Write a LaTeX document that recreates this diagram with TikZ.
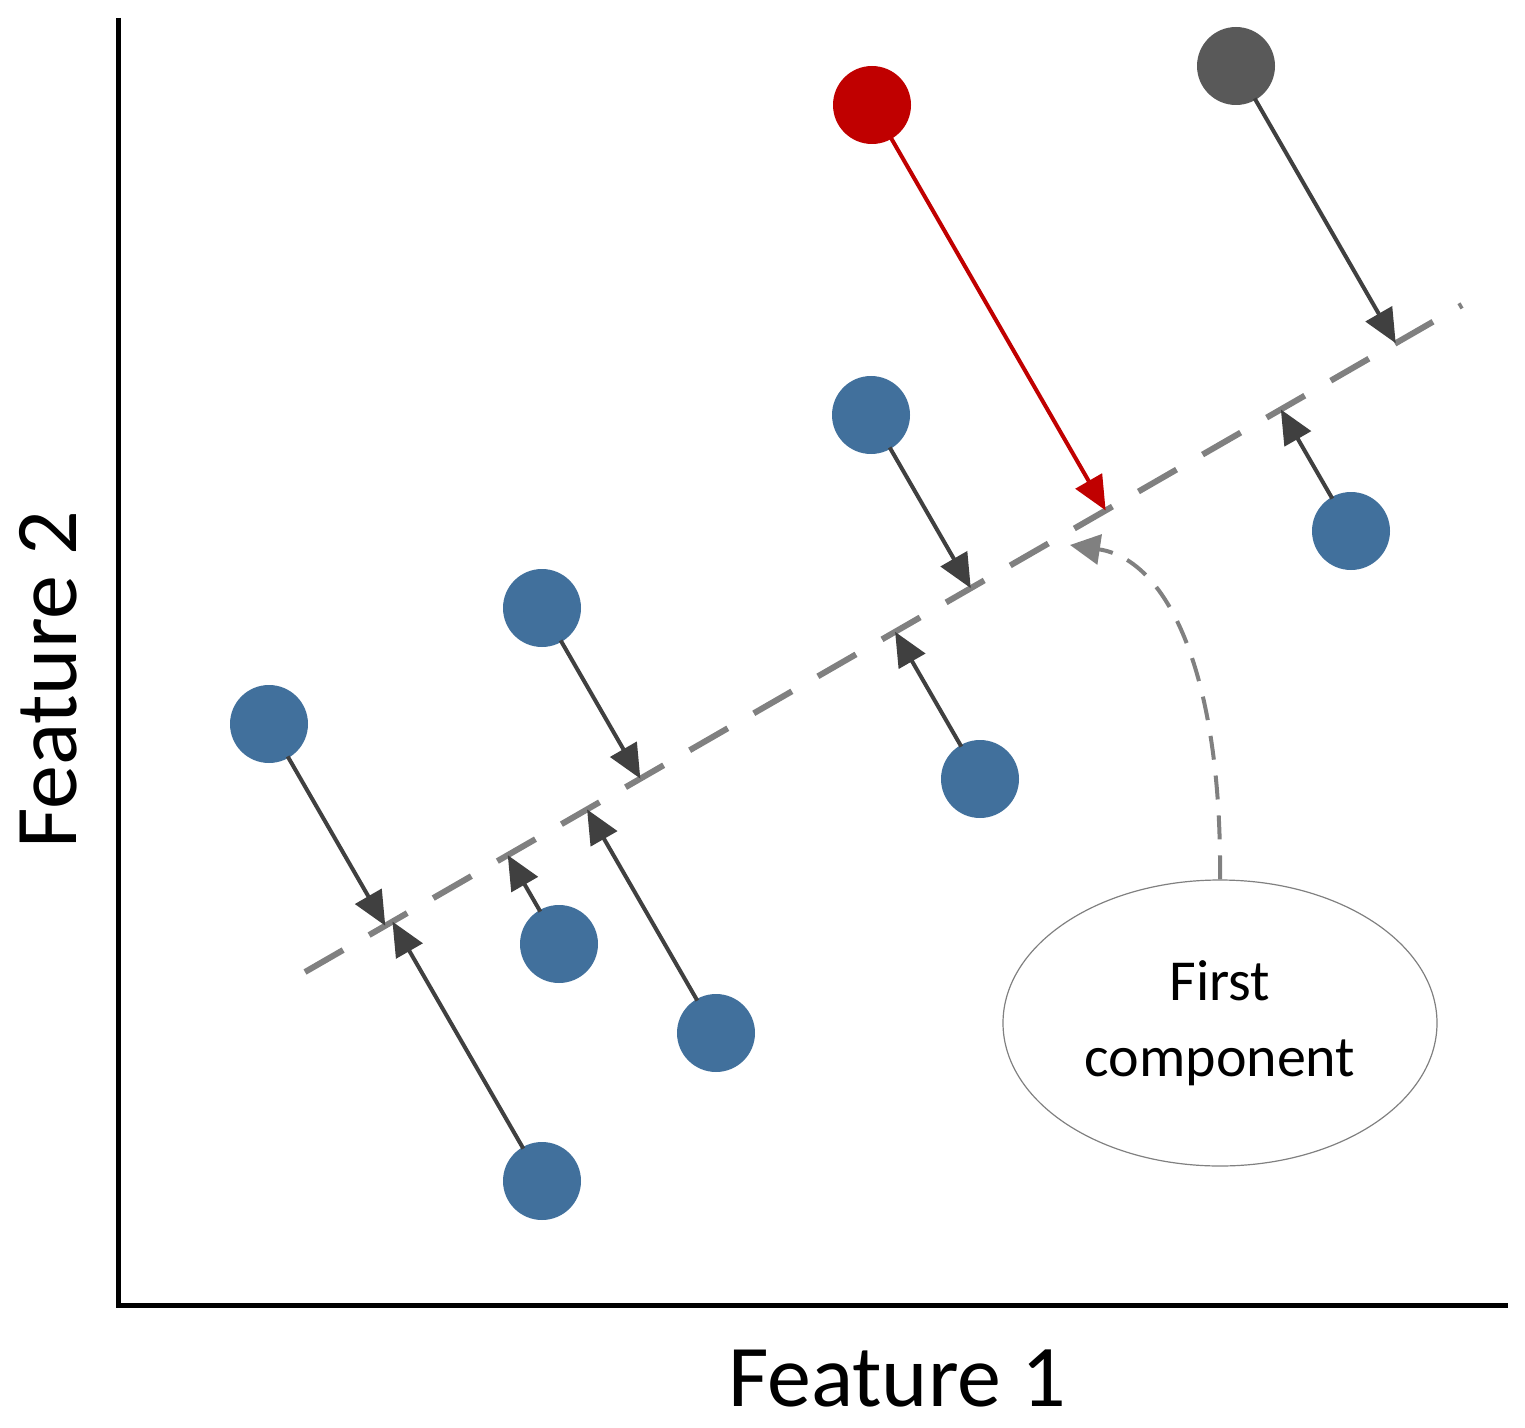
\documentclass[tikz,border=0pt]{standalone}
\usepackage{fontspec}
\setmainfont{Carlito}
\usetikzlibrary{calc,arrows.meta,shapes.geometric}
\definecolor{bl}{HTML}{41709C}
\definecolor{rd}{HTML}{C00000}
\definecolor{dk}{HTML}{595959}
\definecolor{ar}{HTML}{404040}
\definecolor{ln}{HTML}{808080}
\begin{document}
\begin{tikzpicture}[x=0.5pt,y=-0.5pt,
  pt/.style={circle,minimum size=39pt,inner sep=0pt,fill=bl},
  proj/.style={line width=2pt,draw=ar,-{Triangle[length=17pt,width=15pt]},shorten <=-1pt},
  lbl/.style={font=\fontsize{44}{50}\selectfont}]
\useasboundingbox (0,0) rectangle (1525,1428);
\draw[line width=2.5pt] (118,18) -- (118,1305) -- (1508,1305);
\coordinate (L1) at (305,972);
\coordinate (L2) at (1462,305);
\draw[ln,line width=3pt,dash pattern=on 22pt off 15pt] (L1) -- (L2);
\node[lbl] (xl) at (897,1378) {Feature 1};
\node[lbl,rotate=90] (yl) at (48,680) {Feature 2};
\node[pt,fill=rd] (r) at (872,105) {};
\node[pt,fill=dk] (g) at (1236,66) {};
\foreach \n/\x/\y in {b1/871/415,b2/1351/531,b3/542/608,b4/269/724,b5/980/779,b6/559/944,b7/716/1033,b8/542/1181}
  \node[pt] (\n) at (\x,\y) {};
\foreach \n in {g,b1,b2,b3,b4,b5,b6,b7,b8}{
  \coordinate (f\n) at ($(L1)!(\n)!(L2)$);
  \draw[proj] (\n) -- (f\n);
}
\coordinate (fr) at ($(L1)!(r)!(L2)$);
\draw[proj,draw=rd,fill=rd] (r) -- (fr);
\node[ellipse,draw=ln,line width=0.6pt,minimum width=217pt,minimum height=143pt,align=center,font=\fontsize{29}{38}\selectfont] (e) at (1220,1023) {First\\component};
\coordinate (t) at (1070,545);
\draw[ln,line width=2pt,dash pattern=on 12pt off 8pt,-{Triangle[length=15pt,width=15pt]}] (e.north) .. controls (1222,680) and (1170,560) .. (t);
\end{tikzpicture}
\end{document}
